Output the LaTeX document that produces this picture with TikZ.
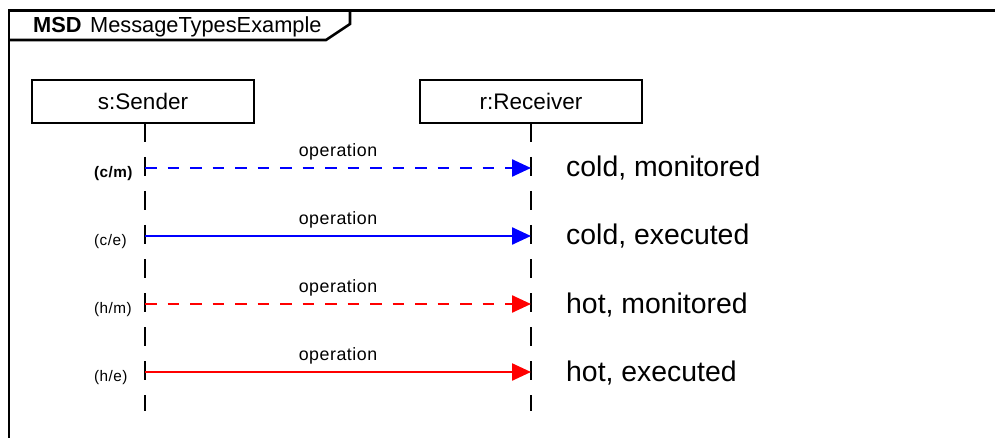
\documentclass[tikz,border=0pt]{standalone}
\usepackage{fontspec}
\setmainfont{Liberation Sans}
\newfontfamily\spacedfont[LetterSpace=3]{Liberation Sans}
\usetikzlibrary{arrows.meta}
\definecolor{coldblue}{RGB}{0,0,255}
\definecolor{hotred}{RGB}{255,0,0}
\begin{document}
\begin{tikzpicture}[x=1pt,y=-1pt,
  frame/.style={draw=black, line width=2.6pt},
  lifebox/.style={draw=black, line width=2pt, minimum width=222pt,
    minimum height=43pt, inner sep=0pt,
    font=\fontsize{22.5}{27}\selectfont},
  lifeline/.style={draw=black, line width=2.3pt, dash pattern=on 19pt off 15pt},
  msg/.style={line width=2.4pt, -{Triangle[length=19pt,width=17pt]}},
  monitored/.style={dash pattern=on 11.5pt off 11pt},
  oplabel/.style={anchor=base, inner sep=0pt,
    font=\spacedfont\fontsize{17.8}{21}\selectfont},
  kindlabel/.style={anchor=base west, inner sep=0pt,
    font=\spacedfont\fontsize{15.3}{18}\selectfont},
  remark/.style={anchor=base west, inner sep=0pt,
    font=\fontsize{28.4}{34}\selectfont}]

  \useasboundingbox (0,0) rectangle (995,438);

  % diagram frame with its name tab
  \draw[frame] (9,438) -- (9,10.5) -- (995,10.5);
  \draw[frame] (9,40) -- (326,40) -- (350,24) -- (350,10.5);
  \node[anchor=base west, inner sep=0pt,
    font=\fontsize{21.8}{26}\selectfont] (title) at (33,33)
    {\textbf{MSD}\hspace{8.5pt}MessageTypesExample};

  % lifelines
  \node[lifebox] (sender) at (143,101.5) {s:Sender};
  \node[lifebox] (receiver) at (531,101.5) {r:Receiver};
  \coordinate (sTop) at (145,123);
  \coordinate (sBot) at (145,411);
  \coordinate (rTop) at (531,123);
  \coordinate (rBot) at (531,411);
  \draw[lifeline] (sTop) -- (sBot);
  \draw[lifeline] (rTop) -- (rBot);

  % message end points on the lifelines
  \coordinate (s1) at (145,168);  \coordinate (r1) at (531,168);
  \coordinate (s2) at (145,236);  \coordinate (r2) at (531,236);
  \coordinate (s3) at (145,304);  \coordinate (r3) at (531,304);
  \coordinate (s4) at (145,372);  \coordinate (r4) at (531,372);

  % cold, monitored
  \draw[msg, coldblue, monitored] (s1) -- (r1);
  \node[oplabel] (op1) at (338,156.5) {operation};
  \node[kindlabel] (k1) at (94,177.5) {\bfseries (c/m)};
  \node[remark] (c1) at (566,177) {cold, monitored};

  % cold, executed
  \draw[msg, coldblue] (s2) -- (r2);
  \node[oplabel] (op2) at (338,224.5) {operation};
  \node[kindlabel] (k2) at (94,245.5) {(c/e)};
  \node[remark] (c2) at (566,245) {cold, executed};

  % hot, monitored
  \draw[msg, hotred, monitored] (s3) -- (r3);
  \node[oplabel] (op3) at (338,292.5) {operation};
  \node[kindlabel] (k3) at (94,313.5) {(h/m)};
  \node[remark] (c3) at (566,313) {hot, monitored};

  % hot, executed
  \draw[msg, hotred] (s4) -- (r4);
  \node[oplabel] (op4) at (338,360.5) {operation};
  \node[kindlabel] (k4) at (94,381.5) {(h/e)};
  \node[remark] (c4) at (566,381) {hot, executed};
\end{tikzpicture}
\end{document}
